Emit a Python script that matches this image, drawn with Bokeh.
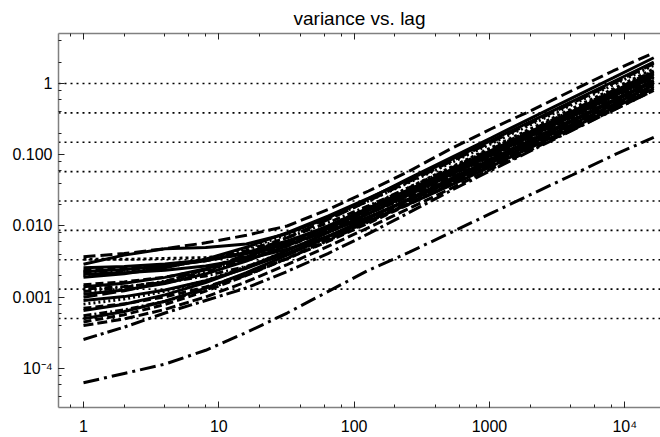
from bokeh.plotting import figure
from bokeh.models import LogAxis, LogTicker, CustomJSTickFormatter, Span, Range1d
from bokeh.embed import file_html
from bokeh.resources import INLINE

# ---------------- data ----------------
LAGS = [1, 2, 4, 8, 16, 32, 64, 128, 256, 512, 1024, 2048, 4096, 8192, 16384]

X_TICKS = [1, 10, 100, 1000, 10000]
X_LABELS = ["1", "10", "100", "1000", "10\u2074"]
Y_TICKS = [1e-4, 1e-3, 1e-2, 1e-1, 1]
Y_LABELS = ["10\u207b\u2074", "0.001", "0.010", "0.100", "1"]

# dotted reference levels
LEVELS = [1.0, 0.387, 0.150, 0.058, 0.0224, 0.00867, 0.00335, 0.0013, 0.000502]

TOP_DASHED = [3.7e-3, 4.1e-3, 4.8e-3, 5.8e-3, 7.4e-3, 1.0e-2, 1.7e-2, 3.1e-2, 5.9e-2, 0.12, 0.23, 0.42, 0.80, 1.5, 2.7]
SOLID_TOP = [2.9e-3, 3.9e-3, 4.8e-3, 5.0e-3, 5.6e-3, 7.8e-3, 0.013, 0.024, 0.047, 0.090, 0.172, 0.33, 0.63, 1.2, 2.3]
DOTTED_TOP = [3.4e-3, 3.4e-3, 3.5e-3, 3.6e-3, 4.1e-3, 5.8e-3, 9.8e-3, 0.0185, 0.035, 0.066, 0.125, 0.235, 0.445, 0.84, 1.6]
S04 = [2.60e-3, 2.71e-3, 2.93e-3, 3.33e-3, 4.09e-3, 5.53e-3, 8.26e-3, 0.0134, 0.0232, 0.0417, 0.0766, 0.143, 0.268, 0.505, 0.953]
S05 = [2.40e-3, 2.53e-3, 2.78e-3, 3.24e-3, 4.12e-3, 5.79e-3, 8.95e-3, 0.0149, 0.0262, 0.0476, 0.0881, 0.165, 0.310, 0.584, 1.102]
S06 = [2.20e-3, 2.38e-3, 2.71e-3, 3.35e-3, 4.55e-3, 6.83e-3, 0.0111, 0.0193, 0.0347, 0.0639, 0.119, 0.224, 0.421, 0.795, 1.502]
S07 = [2.10e-3, 2.20e-3, 2.39e-3, 2.75e-3, 3.43e-3, 4.72e-3, 7.16e-3, 0.0118, 0.0205, 0.0370, 0.0683, 0.1275, 0.239, 0.451, 0.852]
S08 = [2.00e-3, 2.21e-3, 2.62e-3, 3.38e-3, 4.82e-3, 7.55e-3, 0.0127, 0.0225, 0.041, 0.076, 0.142, 0.2675, 0.505, 0.953, 1.802]
S09 = [1.90e-3, 2.14e-3, 2.59e-3, 3.43e-3, 5.03e-3, 8.07e-3, 0.0138, 0.0247, 0.0452, 0.0841, 0.1577, 0.2969, 0.5603, 1.0587, 2.002]
S10 = [1.50e-3, 1.64e-3, 1.91e-3, 2.42e-3, 3.38e-3, 5.20e-3, 8.65e-3, 0.0152, 0.0275, 0.0508, 0.095, 0.1785, 0.3365, 0.6356, 1.2015]
S11 = [1.40e-3, 1.57e-3, 1.90e-3, 2.51e-3, 3.67e-3, 5.87e-3, 0.0100, 0.0179, 0.0328, 0.061, 0.1144, 0.2153, 0.4062, 0.7676, 1.451]
S12 = [1.30e-3, 1.41e-3, 1.61e-3, 1.99e-3, 2.71e-3, 4.08e-3, 6.66e-3, 0.0116, 0.0208, 0.0383, 0.0714, 0.1341, 0.2526, 0.4769, 0.901]
S13 = [1.10e-3, 1.26e-3, 1.56e-3, 2.13e-3, 3.22e-3, 5.26e-3, 9.14e-3, 0.0165, 0.0303, 0.0566, 0.1063, 0.2002, 0.378, 0.7144, 1.351]
S14 = [1.00e-3, 1.23e-3, 1.65e-3, 2.46e-3, 3.98e-3, 6.86e-3, 0.0123, 0.0226, 0.0422, 0.0791, 0.149, 0.2813, 0.5315, 1.005, 1.901]
S15 = [9.0e-4, 1.02e-3, 1.26e-3, 1.70e-3, 2.55e-3, 4.14e-3, 7.15e-3, 0.0129, 0.0236, 0.0441, 0.0827, 0.1558, 0.2941, 0.5557, 1.051]
S16 = [8.0e-4, 9.42e-4, 1.21e-3, 1.72e-3, 2.68e-3, 4.50e-3, 7.95e-3, 0.0145, 0.0268, 0.0501, 0.0943, 0.1778, 0.3358, 0.6348, 1.201]
S17 = [7.0e-4, 8.07e-4, 1.01e-3, 1.39e-3, 2.11e-3, 3.48e-3, 6.06e-3, 0.0110, 0.0202, 0.0377, 0.0708, 0.1335, 0.252, 0.4763, 0.9007]
S18 = [6.5e-4, 7.98e-4, 1.08e-3, 1.61e-3, 2.61e-3, 4.51e-3, 8.09e-3, 0.0149, 0.0277, 0.052, 0.098, 0.185, 0.3497, 0.6612, 1.2507]
S19 = [5.5e-4, 6.63e-4, 8.75e-4, 1.28e-3, 2.04e-3, 3.48e-3, 6.21e-3, 0.0114, 0.0211, 0.0396, 0.0746, 0.1407, 0.2658, 0.5026, 0.9506]
S20 = [5.0e-4, 6.30e-4, 8.77e-4, 1.34e-3, 2.22e-3, 3.89e-3, 7.05e-3, 0.0130, 0.0243, 0.0457, 0.0862, 0.1628, 0.3076, 0.5817, 1.1005]
S21 = [4.5e-4, 5.68e-4, 7.93e-4, 1.22e-3, 2.02e-3, 3.53e-3, 6.41e-3, 0.0118, 0.0221, 0.0416, 0.0784, 0.148, 0.2797, 0.5289, 1.0]
S22 = [4.0e-4, 4.95e-4, 6.74e-4, 1.01e-3, 1.65e-3, 2.87e-3, 5.16e-3, 9.51e-3, 0.0177, 0.0333, 0.0627, 0.1184, 0.2238, 0.4231, 0.80]
S23 = [1.20e-3, 1.37e-3, 1.68e-3, 2.27e-3, 3.39e-3, 5.52e-3, 9.54e-3, 0.0172, 0.0315, 0.0588, 0.1103, 0.2077, 0.392, 0.741, 1.401]
S24 = [2.30e-3, 2.45e-3, 2.73e-3, 3.26e-3, 4.26e-3, 6.16e-3, 9.74e-3, 0.0165, 0.0294, 0.0537, 0.0997, 0.187, 0.351, 0.663, 1.252]
LOW_DASHDOT = [2.55e-4, 3.8e-4, 6.0e-4, 9.0e-4, 1.35e-3, 2.3e-3, 4.1e-3, 7.8e-3, 1.55e-2, 3.1e-2, 6.0e-2, 0.115, 0.22, 0.42, 0.80]
LOWEST_DASHDOT = [6.3e-5, 8.5e-5, 1.15e-4, 1.8e-4, 3.2e-4, 6.0e-4, 1.2e-3, 2.4e-3, 4.3e-3, 8.0e-3, 1.5e-2, 2.8e-2, 5.2e-2, 9.8e-2, 0.175]

SERIES = [
    (S04, "solid", 3), (S05, "8 4", 3), (S06, "8 3 2 3", 3), (S07, "solid", 3),
    (S08, "2 3", 3), (S09, "solid", 3), (S10, "8 4", 3), (S11, "solid", 3),
    (S12, "2 3 8 3", 3), (S13, "solid", 3), (S14, "14 5", 3), (S15, "solid", 3),
    (S16, "2 3", 3), (S17, "8 4", 3), (S18, "solid", 3), (S19, "8 3 2 3", 3),
    (S20, "solid", 3), (S21, "8 4", 3), (S22, "10 4", 3), (S23, "8 3 2 3 2 3", 3),
    (S24, "solid", 3),
    (DOTTED_TOP, "3 3", 3), (SOLID_TOP, "solid", 3), (TOP_DASHED, "12 5", 3),
    (LOW_DASHDOT, "14 4 3 4", 3), (LOWEST_DASHDOT, "16 5 3 5", 3),
]

FONT = "Liberation Sans"


def fmt(tvals, tlabels):
    return CustomJSTickFormatter(args=dict(tvals=tvals, tlabels=tlabels), code="""
        for (let i = 0; i < tvals.length; i++) {
            if (Math.abs(Math.log10(tick) - Math.log10(tvals[i])) < 1e-6) return tlabels[i];
        }
        return "";
    """)


def style_axis(ax):
    ax.axis_line_color = "#808080"
    ax.axis_line_width = 1.5
    ax.major_tick_in = 6
    ax.major_tick_out = 0
    ax.minor_tick_in = 3
    ax.minor_tick_out = 0
    ax.major_tick_line_color = "#222222"
    ax.minor_tick_line_color = "#222222"
    ax.major_tick_line_width = 1
    ax.minor_tick_line_width = 1
    ax.major_label_text_font = FONT
    ax.major_label_text_font_size = "16px"
    ax.major_label_text_color = "black"


p = figure(width=660, height=437, x_axis_type="log", y_axis_type="log",
           x_range=Range1d(0.6535, 18380), y_range=Range1d(2.83e-5, 5.04),
           output_backend="svg", toolbar_location=None, title="variance vs. lag",
           min_border_left=58, min_border_right=0, min_border_top=33, min_border_bottom=28)

p.outline_line_color = None
p.xgrid.visible = False
p.ygrid.visible = False
p.background_fill_color = "white"
p.border_fill_color = "white"

p.title.text_font = FONT
p.title.text_font_size = "19px"
p.title.text_font_style = "normal"
p.title.align = "center"
p.title.text_color = "black"

p.xaxis.ticker = LogTicker(mantissas=[1], desired_num_ticks=6)
p.yaxis.ticker = LogTicker(mantissas=[1], desired_num_ticks=7)
p.xaxis.formatter = fmt(X_TICKS, X_LABELS)
p.yaxis.formatter = fmt(Y_TICKS, Y_LABELS)
style_axis(p.xaxis[0])
style_axis(p.yaxis[0])
p.xaxis.major_label_standoff = 10
p.yaxis.major_label_standoff = 6

top = LogAxis(ticker=LogTicker(mantissas=[1], desired_num_ticks=6),
              formatter=CustomJSTickFormatter(code="return '';"))
style_axis(top)
top.major_label_standoff = 0
p.add_layout(top, "above")

for lv in LEVELS:
    p.add_layout(Span(location=lv, dimension="width", line_color="black",
                      line_width=1.6, line_dash="2 4", level="underlay"))

for vals, dash, w in SERIES:
    p.line(LAGS, vals, line_color="black", line_width=w, line_dash=dash)

open("out.html", "w").write(file_html(p, INLINE))
